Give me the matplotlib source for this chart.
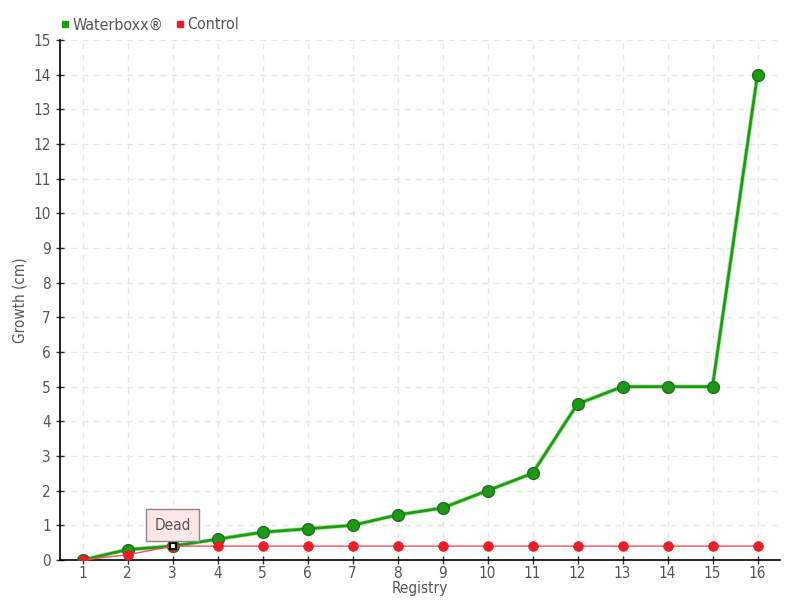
import matplotlib
matplotlib.use("Agg")
import matplotlib.pyplot as plt
from matplotlib.lines import Line2D

registry = list(range(1, 17))
waterboxx = [0, 0.3, 0.4, 0.6, 0.8, 0.9, 1.0, 1.3, 1.5, 2.0, 2.5, 4.5, 5.0, 5.0, 5.0, 14.0]
control = [0, 0.15, 0.4, 0.4, 0.4, 0.4, 0.4, 0.4, 0.4, 0.4, 0.4, 0.4, 0.4, 0.4, 0.4, 0.4]
dead_index = 2
y_ticks = list(range(0, 16))

plt.rcParams['font.family'] = ['DejaVu Sans']
plt.rcParams['font.stretch'] = 'condensed'

fig = plt.figure(figsize=(8, 6), dpi=100)
ax = fig.add_axes([0.075, 0.0667, 0.9, 0.8667])

green = "#1a9e0f"
red = "#ee1c25"
txt = "#555555"

ax.plot(registry, waterboxx, color="#7fd070", lw=3.2, zorder=2, alpha=0.6)
ax.plot(registry, waterboxx, color=green, lw=2.0, zorder=3, marker="o", ms=8.5,
        markerfacecolor="#1d9a14", markeredgecolor="#1f6e18", markeredgewidth=1)
ax.plot(registry, control, color="#f25060", lw=1.0, zorder=4, marker="o", ms=7,
        markerfacecolor=red, markeredgecolor="#d81e2a", markeredgewidth=0.5)
ax.plot([registry[dead_index]], [control[dead_index]], marker="s", ms=5,
        markerfacecolor="white", markeredgecolor="black", markeredgewidth=1.5, zorder=6, ls="none")
ax.annotate("Dead", xy=(registry[dead_index], control[dead_index]), xytext=(0, 15),
            textcoords="offset points", ha="center", va="center", fontsize=11, color=txt,
            bbox=dict(boxstyle="square,pad=0.55", fc="#fde6e6", ec="#888888", lw=1),
            zorder=7)

ax.set_xlim(0.5, 16.5)
ax.set_ylim(0, 15)
ax.set_xticks(registry)
ax.set_yticks(y_ticks)
ax.grid(True, color="#e6e6e6", ls=(0, (4, 4)), lw=1)
ax.set_axisbelow(True)
for s in ["top", "right"]:
    ax.spines[s].set_visible(False)
for s in ["left", "bottom"]:
    ax.spines[s].set_color("black")
    ax.spines[s].set_linewidth(1.2)
ax.tick_params(axis="both", direction="inout", length=6, width=1, color="#333333",
               labelcolor=txt, labelsize=11)
ax.tick_params(axis="x", pad=1)
ax.set_xlabel("Registry", color=txt, fontsize=11, labelpad=0)
ax.set_ylabel("Growth (cm)", color=txt, fontsize=11, labelpad=4)

handles = [Line2D([], [], ls="none", marker="s", ms=5, color="#1d9a14"),
           Line2D([], [], ls="none", marker="s", ms=5, color=red)]
fig.legend(handles, ["Waterboxx®", "Control"], loc="upper left", bbox_to_anchor=(0.055, 0.995),
           ncol=2, frameon=False, fontsize=11.5, labelcolor=txt, handletextpad=0.1,
           columnspacing=0.6, handlelength=0.8)

fig.savefig("out.png", dpi=100)
